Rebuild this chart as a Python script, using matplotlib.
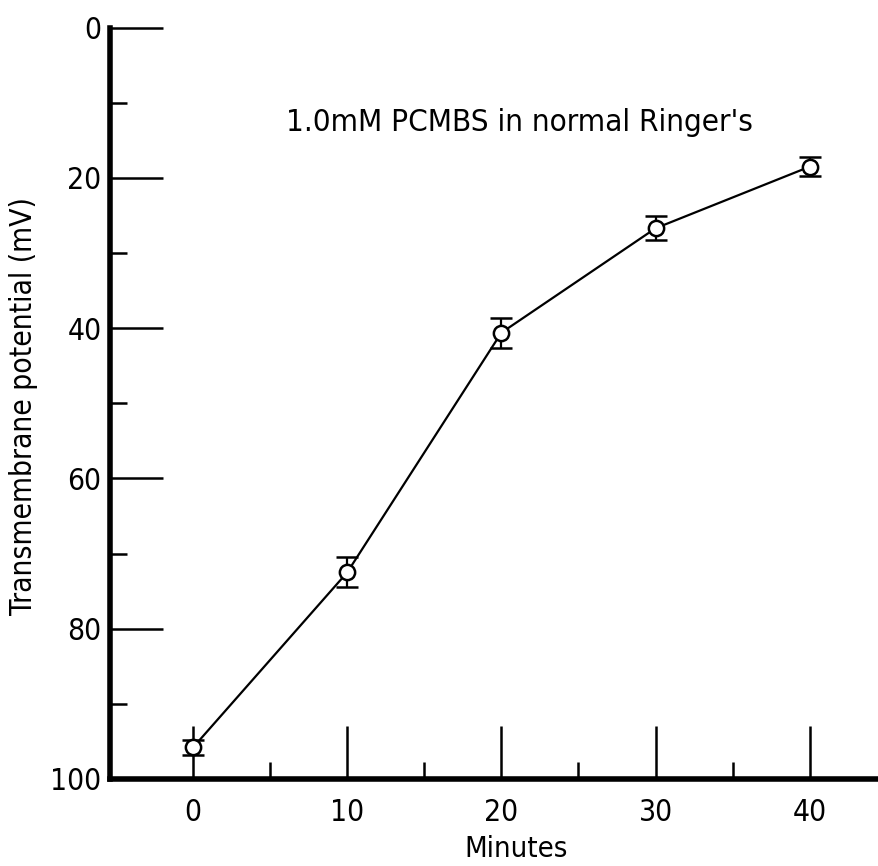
import matplotlib
matplotlib.use("Agg")
import matplotlib.pyplot as plt
from matplotlib.ticker import MultipleLocator, FixedLocator

plt.rcParams['font.family'] = ['DejaVu Sans']
plt.rcParams['font.stretch'] = 'condensed'

minutes = [0, 10, 20, 30, 40]
potential = [95.8, 72.5, 40.6, 26.7, 18.5]
err = [1.0, 2.0, 2.0, 1.6, 1.3]
title_text = "1.0mM PCMBS in normal Ringer's"

fig = plt.figure(figsize=(8.79, 8.66), dpi=100)
ax = fig.add_axes([0.125, 0.1005, 0.875, 0.8675])

ax.errorbar(minutes, potential, yerr=err, fmt='-o', color='black', lw=1.6,
            mfc='white', mec='black', ms=11, mew=1.8, capsize=8, capthick=1.8, elinewidth=1.6)

ax.set_xlim(-5.4, 44.5)
ax.set_ylim(100, 0)
ax.xaxis.set_major_locator(MultipleLocator(10))
ax.xaxis.set_minor_locator(FixedLocator([5, 15, 25, 35]))
ax.yaxis.set_major_locator(MultipleLocator(20))
ax.yaxis.set_minor_locator(MultipleLocator(10))

for s in ['top', 'right']:
    ax.spines[s].set_visible(False)
for s in ['left', 'bottom']:
    ax.spines[s].set_linewidth(4)

ax.tick_params(axis='both', which='major', direction='in', length=38, width=1.8,
               labelsize=21.5, pad=6)
ax.tick_params(axis='both', which='minor', direction='in', length=12, width=1.8)
ax.tick_params(axis='x', which='major', pad=14)
fig.canvas.draw()
ax.xaxis.get_major_ticks()[0].tick1line.set_markersize(12)

ax.set_xlabel('Minutes', fontsize=21)
ax.xaxis.set_label_coords(0.528, -0.093)
ax.xaxis.label.set_verticalalignment('center')
ax.set_ylabel('Transmembrane potential (mV)', fontsize=21.5)
ax.yaxis.label.set_verticalalignment('center')
ax.yaxis.set_label_coords(-0.112, 0.496)
ax.text(0.532, 0.874, title_text, transform=ax.transAxes, ha='center', va='center', fontsize=22.5)

fig.savefig('out.png', dpi=100)
